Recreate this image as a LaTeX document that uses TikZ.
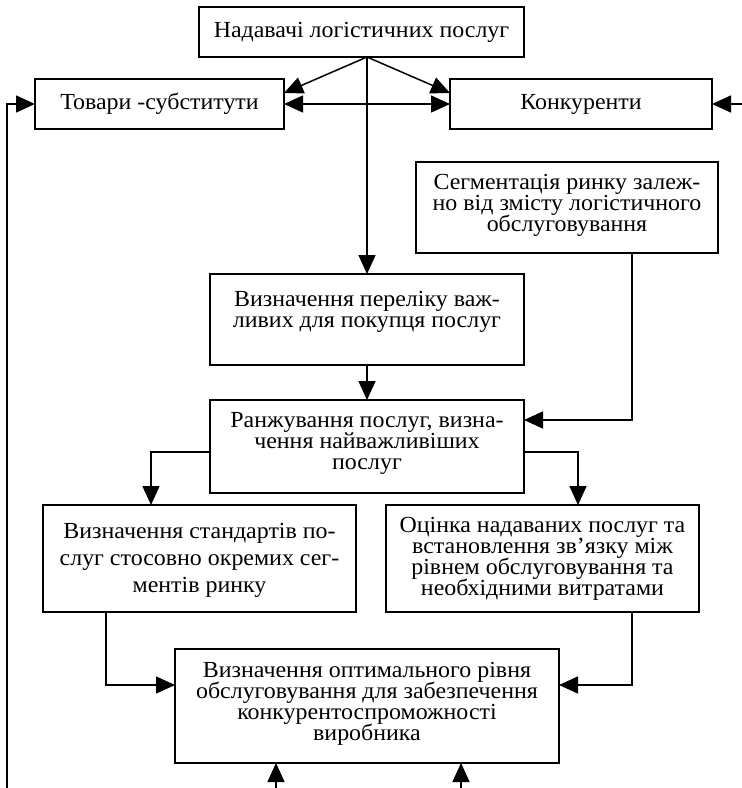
\documentclass[tikz,border=0pt]{standalone}
\usepackage{fontspec}
\setmainfont[FakeStretch=1.04]{Liberation Serif}
\usetikzlibrary{arrows.meta}
\lineskiplimit=-100pt
\begin{document}
\begin{tikzpicture}[x=1pt,y=-1pt,
  box/.style={draw, line width=1.5pt, rectangle, inner sep=0pt, outer sep=0pt,
    align=center, font=\fontsize{23}{21}\selectfont},
  txt/.style={align=center, inner sep=0pt,
    font=\fontsize{23}{21}\selectfont},
  txtwide/.style={align=center, inner sep=0pt,
    font=\fontsize{23}{27}\selectfont},
  conn/.style={line width=1.5pt, -{Triangle[length=19pt,width=17pt]}},
  dconn/.style={line width=1.5pt, {Triangle[length=19pt,width=17pt]}-{Triangle[length=19pt,width=17pt]}},
]
\useasboundingbox (0,0) rectangle (742,788);

% boxes
\node[box, minimum width=325pt, minimum height=50pt] (top) at (361.5,32) {Надавачі логістичних послуг};
\node[box, minimum width=249pt, minimum height=50pt] (tov) at (159.5,104) {Товари -субститути};
\node[box, minimum width=262pt, minimum height=50pt] (kon) at (581,104) {Конкуренти};
\node[box, minimum width=302pt, minimum height=91pt] (seg) at (567,207.5) {};
\node[box, minimum width=314pt, minimum height=91pt] (per) at (367,319.5) {};
\node[box, minimum width=314pt, minimum height=93pt] (ran) at (367,446.5) {};
\node[box, minimum width=313pt, minimum height=107pt] (std) at (199.5,558.5) {};
\node[box, minimum width=313pt, minimum height=107pt] (oc) at (542.5,558.5) {};
\node[box, minimum width=384pt, minimum height=114pt] (opt) at (367,706) {};

% texts of multi-line boxes
\node[txt] (seg-t) at (567,205.5) {Сегментація ринку залеж-\\но від змісту логістичного\\обслуговування};
\node[txt] (per-t) at (367,311.5) {Визначення переліку важ-\\ливих для покупця послуг};
\node[txt] (ran-t) at (367,443) {Ранжування послуг, визна-\\чення найважливіших\\послуг};
\node[txtwide] (std-t) at (199.5,560) {Визначення стандартів по-\\слуг стосовно окремих сег-\\ментів ринку};
\node[txt] (oc-t) at (542.5,558.5) {Оцінка надаваних послуг та\\встановлення зв’язку між\\рівнем обслуговування та\\необхідними витратами};
\node[txt] (opt-t) at (367,704) {Визначення оптимального рівня\\обслуговування для забезпечення\\конкурентоспроможності\\виробника};

% free ends
\coordinate (j) at (per.north |- top.south);
\coordinate (l0) at (7,788);
\coordinate (r0) at (742,104);
\coordinate (b1) at (276,788);
\coordinate (b2) at (461,788);

% connectors
\draw[conn] (j) -- ([yshift=11pt]tov.east);
\draw[conn] (j) -- ([yshift=11pt]kon.west);
\draw[dconn] (tov.east) -- (kon.west);
\draw[conn] (j) -- (per.north);
\draw[conn] (per.south) -- (ran.north);
\draw[conn] ([xshift=65pt]seg.south) |- ([yshift=26.5pt]ran.east);
\draw[conn] ([yshift=-5.5pt]ran.west) -| ([xshift=-48.5pt]std.north);
\draw[conn] ([yshift=-5.5pt]ran.east) -| ([xshift=35.5pt]oc.north);
\draw[conn] ([xshift=-93.5pt]std.south) |- ([yshift=21pt]opt.west);
\draw[conn] ([xshift=89.5pt]oc.south) |- ([yshift=21pt]opt.east);
\draw[conn] (b1) -- (b1 |- opt.south);
\draw[conn] (b2) -- (b2 |- opt.south);
\draw[conn] (l0) |- (tov.west);
\draw[conn] (r0) -- (kon.east);
\end{tikzpicture}
\end{document}
